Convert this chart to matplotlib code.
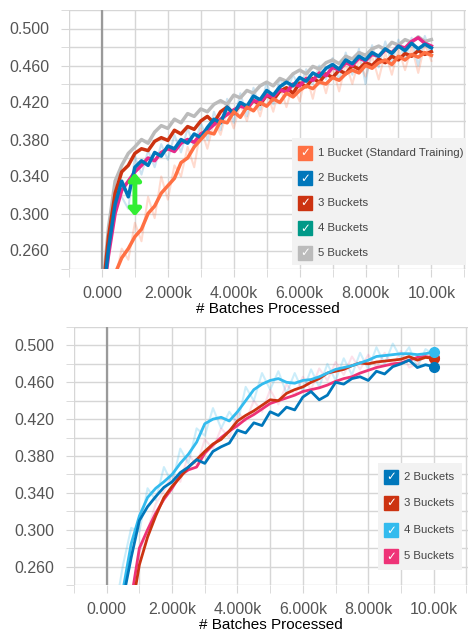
import matplotlib.pyplot as plt
import matplotlib.ticker as mticker

plt.rcParams['font.family'] = ['Liberation Sans', 'DejaVu Sans']

# ---- top panel data (x every 200 batches) ----
top_x = list(range(0, 10001, 200))

top_1 = [0.200, 0.215, 0.235, 0.252, 0.262, 0.275, 0.283, 0.300, 0.308, 0.322,
         0.330, 0.338, 0.355, 0.360, 0.372, 0.380, 0.388, 0.386, 0.400, 0.398,
         0.410, 0.404, 0.415, 0.411, 0.420, 0.416, 0.424, 0.420, 0.430, 0.426,
         0.433, 0.438, 0.435, 0.442, 0.440, 0.447, 0.444, 0.451, 0.455, 0.452,
         0.460, 0.457, 0.463, 0.466, 0.461, 0.470, 0.466, 0.472, 0.469, 0.474, 0.471]
top_1_raw = [0.195, 0.225, 0.228, 0.262, 0.250, 0.290, 0.270, 0.318, 0.295, 0.340,
             0.315, 0.352, 0.340, 0.372, 0.350, 0.392, 0.370, 0.400, 0.385, 0.412,
             0.392, 0.418, 0.400, 0.426, 0.405, 0.432, 0.410, 0.438, 0.415, 0.440,
             0.421, 0.450, 0.424, 0.455, 0.430, 0.458, 0.432, 0.462, 0.440, 0.466,
             0.448, 0.470, 0.445, 0.474, 0.450, 0.478, 0.455, 0.480, 0.452, 0.483, 0.465]
top_2 = [0.200, 0.262, 0.310, 0.335, 0.318, 0.350, 0.357, 0.352, 0.366, 0.362,
         0.373, 0.370, 0.380, 0.376, 0.386, 0.382, 0.393, 0.402, 0.398, 0.415,
         0.408, 0.420, 0.416, 0.427, 0.423, 0.433, 0.428, 0.437, 0.442, 0.438,
         0.447, 0.443, 0.452, 0.448, 0.457, 0.461, 0.456, 0.466, 0.462, 0.470,
         0.466, 0.474, 0.470, 0.478, 0.473, 0.481, 0.476, 0.484, 0.478, 0.483, 0.479]
top_2_raw = [0.195, 0.250, 0.322, 0.318, 0.305, 0.362, 0.342, 0.368, 0.350, 0.375,
             0.358, 0.385, 0.366, 0.392, 0.372, 0.398, 0.380, 0.410, 0.390, 0.424,
             0.398, 0.430, 0.405, 0.436, 0.412, 0.442, 0.418, 0.446, 0.430, 0.450,
             0.436, 0.456, 0.440, 0.460, 0.445, 0.468, 0.444, 0.474, 0.450, 0.478,
             0.440, 0.482, 0.458, 0.486, 0.462, 0.488, 0.465, 0.490, 0.460, 0.492, 0.470]
top_3 = [0.205, 0.275, 0.322, 0.345, 0.352, 0.365, 0.370, 0.368, 0.378, 0.382,
         0.379, 0.390, 0.386, 0.394, 0.391, 0.400, 0.405, 0.398, 0.410, 0.415,
         0.408, 0.418, 0.414, 0.422, 0.418, 0.428, 0.423, 0.432, 0.436, 0.430,
         0.441, 0.437, 0.446, 0.442, 0.451, 0.447, 0.455, 0.451, 0.460, 0.456,
         0.463, 0.460, 0.467, 0.463, 0.470, 0.466, 0.473, 0.470, 0.476, 0.472, 0.475]
top_4 = [0.200, 0.255, 0.300, 0.325, 0.335, 0.345, 0.352, 0.360, 0.357, 0.366,
         0.370, 0.367, 0.376, 0.380, 0.377, 0.386, 0.390, 0.396, 0.402, 0.407,
         0.412, 0.416, 0.414, 0.422, 0.420, 0.428, 0.426, 0.434, 0.431, 0.440,
         0.438, 0.446, 0.444, 0.452, 0.449, 0.458, 0.455, 0.463, 0.460, 0.468,
         0.465, 0.472, 0.470, 0.477, 0.474, 0.481, 0.479, 0.486, 0.490, 0.484, 0.481]
top_5 = [0.210, 0.285, 0.335, 0.352, 0.365, 0.372, 0.380, 0.376, 0.388, 0.395,
         0.392, 0.402, 0.398, 0.408, 0.405, 0.413, 0.410, 0.418, 0.422, 0.418,
         0.428, 0.425, 0.433, 0.430, 0.438, 0.442, 0.438, 0.446, 0.443, 0.451,
         0.455, 0.451, 0.459, 0.456, 0.463, 0.466, 0.462, 0.470, 0.467, 0.474,
         0.471, 0.478, 0.481, 0.477, 0.485, 0.482, 0.488, 0.485, 0.491, 0.486, 0.488]

# ---- bottom panel data (x every 250 batches) ----
bot_x = list(range(0, 10001, 250))

bot_2 = [0.150, 0.180, 0.225, 0.270, 0.310, 0.325, 0.336, 0.346, 0.352, 0.362,
         0.368, 0.376, 0.372, 0.385, 0.390, 0.394, 0.408, 0.405, 0.416, 0.413,
         0.428, 0.424, 0.433, 0.430, 0.444, 0.450, 0.441, 0.446, 0.460, 0.458,
         0.464, 0.466, 0.462, 0.472, 0.469, 0.477, 0.480, 0.484, 0.476, 0.479, 0.477]
bot_3 = [0.120, 0.140, 0.170, 0.210, 0.262, 0.292, 0.315, 0.335, 0.347, 0.357,
         0.368, 0.376, 0.385, 0.393, 0.398, 0.407, 0.418, 0.424, 0.429, 0.435,
         0.441, 0.440, 0.448, 0.452, 0.455, 0.460, 0.464, 0.470, 0.472, 0.474,
         0.478, 0.481, 0.480, 0.482, 0.483, 0.484, 0.485, 0.488, 0.484, 0.487, 0.486]
bot_3_raw = [0.120, 0.150, 0.180, 0.225, 0.275, 0.300, 0.328, 0.342, 0.360, 0.352,
             0.382, 0.370, 0.398, 0.388, 0.410, 0.400, 0.428, 0.418, 0.440, 0.428,
             0.452, 0.436, 0.458, 0.446, 0.466, 0.452, 0.475, 0.462, 0.482, 0.468,
             0.488, 0.474, 0.490, 0.476, 0.492, 0.478, 0.494, 0.476, 0.480, 0.492, 0.484]
bot_4 = [0.150, 0.190, 0.235, 0.285, 0.315, 0.335, 0.345, 0.352, 0.360, 0.372,
         0.382, 0.395, 0.415, 0.420, 0.422, 0.418, 0.428, 0.440, 0.452, 0.458,
         0.462, 0.464, 0.460, 0.459, 0.462, 0.463, 0.466, 0.470, 0.474, 0.476,
         0.478, 0.481, 0.484, 0.488, 0.489, 0.490, 0.491, 0.491, 0.490, 0.491, 0.493]
bot_4_raw = [0.160, 0.210, 0.262, 0.302, 0.298, 0.345, 0.332, 0.368, 0.350, 0.388,
             0.372, 0.410, 0.402, 0.432, 0.410, 0.428, 0.415, 0.455, 0.440, 0.470,
             0.452, 0.472, 0.448, 0.470, 0.450, 0.474, 0.455, 0.480, 0.462, 0.486,
             0.468, 0.492, 0.474, 0.498, 0.480, 0.502, 0.486, 0.498, 0.476, 0.496, 0.490]
bot_5 = [0.120, 0.150, 0.180, 0.225, 0.280, 0.300, 0.318, 0.333, 0.345, 0.359,
         0.365, 0.368, 0.383, 0.392, 0.400, 0.407, 0.413, 0.420, 0.425, 0.431,
         0.437, 0.440, 0.443, 0.446, 0.450, 0.452, 0.454, 0.457, 0.461, 0.464,
         0.466, 0.470, 0.473, 0.476, 0.478, 0.480, 0.481, 0.484, 0.487, 0.488, 0.486]

top_labels = ['1 Bucket (Standard Training)', '2 Buckets', '3 Buckets',
              '4 Buckets', '5 Buckets']
top_colors = ['#ff7043', '#0077bb', '#cc3311', '#009988', '#bbbbbb']
bot_labels = ['2 Buckets', '3 Buckets', '4 Buckets', '5 Buckets']
bot_colors = ['#0077bb', '#cc3311', '#33bbee', '#ee3377']

GRID = '#d6d6d6'
TXT = '#555555'


def style_axes(ax):
    ax.set_xlim(-1000, 11050)
    ax.set_ylim(0.24, 0.52)
    ax.xaxis.set_major_locator(mticker.MultipleLocator(2000))
    ax.xaxis.set_minor_locator(mticker.MultipleLocator(1000))
    ax.set_yticks([0.26, 0.30, 0.34, 0.38, 0.42, 0.46, 0.50])
    ax.set_yticks([0.24, 0.28, 0.32, 0.36, 0.40, 0.44, 0.48, 0.52], minor=True)
    ax.xaxis.set_major_formatter(mticker.FuncFormatter(
        lambda v, p: '0.000' if v == 0 else ('10.00k' if v >= 10000 else '%.3fk' % (v / 1000))))
    ax.yaxis.set_major_formatter(mticker.FormatStrFormatter('%.3f'))
    ax.grid(True, which='both', color=GRID, lw=1)
    ax.set_axisbelow(True)
    for s in ax.spines.values():
        s.set_visible(False)
    ax.tick_params(which='both', length=6, color=GRID, labelcolor=TXT, labelsize=11.5, pad=8)
    ax.tick_params(axis='x', which='both', labelsize=11.5, pad=6)
    ax.axvline(0, color='#9a9a9a', lw=1.6, zorder=1)
    ax.set_xlabel('# Batches Processed', fontsize=11, labelpad=1)


def draw_legend(ax, labels, colors, box, ys, xbox, xtxt):
    x0, y0, x1, y1 = box
    ax.add_patch(plt.Rectangle((x0, y0), x1 - x0, y1 - y0, transform=ax.transAxes,
                               facecolor='#f2f2f2', edgecolor='none', zorder=5, clip_on=False))
    for lab, col, y in zip(labels, colors, ys):
        ax.plot([xbox], [y], marker='s', ms=10.5, color=col, transform=ax.transAxes,
                zorder=6, clip_on=False)
        ax.text(xbox, y, '\u2713', color='white', fontsize=8.5, fontweight='bold',
                ha='center', va='center', transform=ax.transAxes, zorder=7,
                family=['DejaVu Sans'])
        ax.text(xtxt, y, lab, color='#444444', fontsize=8.2, ha='left', va='center',
                transform=ax.transAxes, zorder=7)


fig = plt.figure(figsize=(4.68, 6.33), dpi=100)

# ---- top panel ----
ax1 = fig.add_axes([69 / 468, 1 - 269 / 633, 397 / 468, 259 / 633])
style_axes(ax1)
ax1.plot(top_x, top_1_raw, color='#ff7043', lw=1.5, alpha=0.25, zorder=2)
ax1.plot(top_x, top_2_raw, color='#0077bb', lw=1.5, alpha=0.2, zorder=2)
ax1.plot(top_x, top_5, color=top_colors[4], lw=2.5, zorder=3)
ax1.plot(top_x, top_3, color=top_colors[2], lw=2.5, zorder=3)
ax1.plot(top_x, top_4, color='#e7298a', lw=2.5, zorder=3)
ax1.plot(top_x, top_2, color=top_colors[1], lw=2.5, zorder=3)
ax1.plot(top_x, top_1, color=top_colors[0], lw=2.5, zorder=3)
ax1.annotate('', xy=(1000, 0.297), xytext=(1000, 0.344),
             arrowprops=dict(arrowstyle='<|-|>,head_width=0.35,head_length=0.4',
                             lw=3.5, color='#33ee33', shrinkA=0, shrinkB=0), zorder=4)
draw_legend(ax1, top_labels, top_colors, (0.562, 0.015, 1.0, 0.506),
            [0.448, 0.351, 0.255, 0.158, 0.062], 0.594, 0.627)

# ---- bottom panel ----
ax2 = fig.add_axes([74 / 468, 1 - 585 / 633, 394 / 468, 258 / 633])
style_axes(ax2)
ax2.plot(bot_x, bot_4_raw, color='#33bbee', lw=1.5, alpha=0.25, zorder=2)
ax2.plot(bot_x, bot_3_raw, color='#ee3377', lw=1.5, alpha=0.15, zorder=2)
for ys, col in [(bot_5, bot_colors[3]), (bot_3, bot_colors[1]),
                (bot_4, bot_colors[2]), (bot_2, bot_colors[0])]:
    ax2.plot(bot_x, ys, color=col, lw=2.0, zorder=3)
    ax2.plot([bot_x[-1]], [ys[-1]], 'o', ms=7, color=col, zorder=4)
draw_legend(ax2, bot_labels, bot_colors, (0.772, 0.058, 0.985, 0.473),
            [0.419, 0.318, 0.213, 0.112], 0.805, 0.838)

fig.savefig('out.png', dpi=100)
